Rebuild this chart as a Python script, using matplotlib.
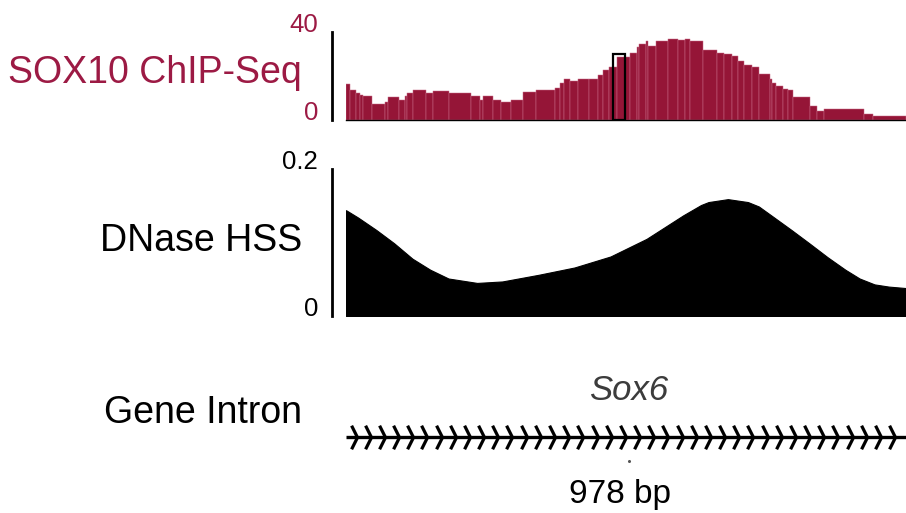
import numpy as np
import matplotlib
matplotlib.use("Agg")
import matplotlib.pyplot as plt
from matplotlib.path import Path

# region shown is 978 bp wide
REGION_BP = 978

# SOX10 ChIP-Seq coverage, step bars: left edges (bp) and heights
chip_edges = [
    0, 7, 17, 24, 30, 45, 68, 73, 93, 103, 107, 117, 140, 152, 180, 218,
    234, 239, 257, 271, 288, 309, 332, 365, 374, 381, 391, 405, 424, 440,
    449, 459, 466, 473, 496, 508, 512, 524, 527, 541, 562, 580, 592, 601,
    623, 648, 660, 674, 685, 695, 709, 721, 740, 744, 751, 763, 772, 781,
    810, 823, 835, 905, 920, 978,
]
chip_values = [
    16.4, 13.7, 11.9, 11.1, 10.6, 7.1, 8.2, 10.2, 9.1, 10.6, 11.9, 13.7,
    12.3, 13.2, 12.3, 10.6, 9.1, 10.6, 9.1, 7.8, 9.1, 12.8, 13.7, 14.6,
    16.7, 18.3, 17.6, 18.3, 18.7, 20.2, 22.8, 23.9, 24.2, 28.5, 30.4, 33.2,
    34.4, 35.9, 33.6, 35.9, 37.0, 36.5, 37.0, 35.9, 32.0, 30.4, 30.0, 28.9,
    26.8, 24.8, 24.0, 21.0, 18.3, 16.9, 15.2, 13.8, 13.4, 10.3, 6.2, 3.9,
    4.6, 2.6, 1.5,
]
# highlighted motif box (bp range and height)
box_start, box_end, box_top = 466, 487, 29.8

# DNase HSS signal
dnase_pos = [
    0, 21, 53, 84, 116, 147, 179, 204, 229, 273, 336, 399, 462, 525, 557,
    589, 620, 633, 667, 702, 721, 746, 778, 809, 841, 872, 897, 923, 948, 978,
]
dnase_val = [
    0.144, 0.134, 0.117, 0.099, 0.078, 0.063, 0.051, 0.048, 0.045, 0.047,
    0.056, 0.066, 0.081, 0.105, 0.121, 0.137, 0.151, 0.155, 0.159, 0.155,
    0.149, 0.135, 0.117, 0.099, 0.080, 0.063, 0.051, 0.043, 0.040, 0.038,
]

track_labels = ["SOX10 ChIP-Seq", "DNase HSS", "Gene Intron"]
gene_name = "Sox6"
scale_label = f"{REGION_BP} bp"

CRIMSON = "#951537"
LABEL_RED = "#9c1a44"
W, H = 906, 513
FONT = ["Liberation Sans", "DejaVu Sans"]

fig = plt.figure(figsize=(W / 100, H / 100), dpi=100)
fig.patch.set_facecolor("white")


def px_axes(left, top, right, bottom):
    return fig.add_axes([left / W, (H - bottom) / H, (right - left) / W, (bottom - top) / H])


def style_track(ax, color):
    for s in ["top", "right"]:
        ax.spines[s].set_visible(False)
    ax.spines["left"].set_position(("outward", 10))
    ax.spines["left"].set_linewidth(2.0)
    ax.set_xticks([])
    ax.tick_params(axis="y", length=0, pad=10, labelsize=18.5, labelcolor=color)
    for lab in ax.get_yticklabels():
        lab.set_verticalalignment("baseline")
        lab.set_fontfamily(FONT)


# --- ChIP-seq track ---
ax1 = px_axes(346, 32, 906, 119.5)
widths = np.diff(chip_edges)
ax1.bar(chip_edges[:-1], chip_values, width=widths, align="edge",
        color=CRIMSON, edgecolor="#c96a86", linewidth=0.35)
ax1.add_patch(plt.Rectangle((box_start, 0), box_end - box_start, box_top,
                            fill=False, edgecolor="black", linewidth=1.6, zorder=5))
ax1.set_xlim(0, REGION_BP)
ax1.set_ylim(0, 40)
ax1.set_yticks([0, 40])
ax1.spines["bottom"].set_linewidth(1.0)
style_track(ax1, LABEL_RED)

# --- DNase track ---
ax2 = px_axes(346, 169, 906, 316)
ax2.fill_between(dnase_pos, 0, dnase_val, color="black", linewidth=0.8, edgecolor="black")
ax2.set_xlim(0, REGION_BP)
ax2.set_ylim(0, 0.2)
ax2.set_yticks([0, 0.2])
ax2.set_yticklabels(["0", "0.2"])
ax2.spines["bottom"].set_visible(False)
style_track(ax2, "black")

# --- gene track ---
ax3 = px_axes(346, 400, 906, 474)
ax3.set_xlim(0, REGION_BP)
ax3.set_ylim(0, 1)
ax3.axis("off")
ax3.plot([0, REGION_BP], [0.5, 0.5], color="black", linewidth=2.4, solid_capstyle="butt")
chevron = Path([(-0.5, 1.0), (0.0, 0.0), (-0.5, -1.0)],
               [Path.MOVETO, Path.LINETO, Path.LINETO])
tips = np.arange(18.5, REGION_BP, 24.75)
ax3.plot(tips, np.full(len(tips), 0.5), linestyle="none", marker=chevron,
         markersize=17, markerfacecolor="none", markeredgecolor="black",
         markeredgewidth=2.3)
ax3.plot([494], [0.18], marker="o", markersize=1.2, color="#555555")

# --- labels ---
label_y = [73, 241, 413]
label_colors = [LABEL_RED, "black", "black"]
for text, y, c in zip(track_labels, label_y, label_colors):
    fig.text(302 / W, 1 - y / H, text, ha="right", va="center",
             fontsize=27, color=c, family=FONT)

fig.text(629 / W, 1 - 391 / H, gene_name, ha="center", va="center",
         fontsize=25, style="italic", color="#3c3c3c", family=FONT)
fig.text(620 / W, 1 - 494 / H, scale_label, ha="center", va="center",
         fontsize=24, color="black", family=FONT)

fig.savefig("out.png", dpi=100, facecolor="white")
